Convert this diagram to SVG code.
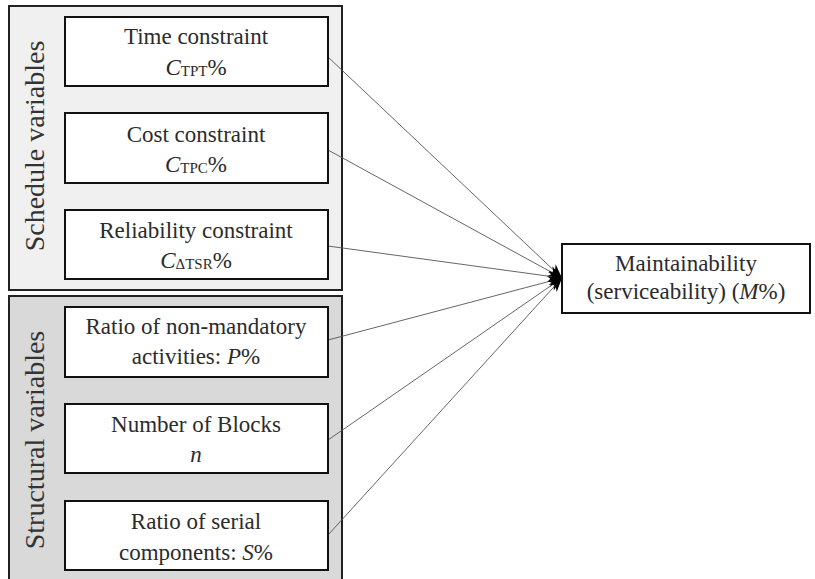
<svg xmlns="http://www.w3.org/2000/svg" width="815" height="579" viewBox="0 0 815 579">
  <defs>
    <marker id="arrow" viewBox="0 0 10 10" refX="10" refY="5" markerWidth="14" markerHeight="14" markerUnits="userSpaceOnUse" orient="auto">
      <path d="M0,1 L10,5 L0,9 L3,5 Z" fill="#000"/>
    </marker>
    <style>
      .group-sched { fill: #f0f0f0; stroke: #222; stroke-width: 2; }
      .group-struct { fill: #d9d9d9; stroke: #222; stroke-width: 2; }
      .box { fill: #fff; stroke: #111; stroke-width: 2; }
      text { font-family: "Liberation Serif", "Times New Roman", serif; }
      .txt { font-size: 23px; fill: #2b2b2b; text-anchor: middle; }
      .side { font-size: 28px; fill: #333; text-anchor: middle; }
      .it { font-style: italic; }
      .sub { font-size: 15px; }
      .link { stroke: #555; stroke-width: 0.9; fill: none; marker-end: url(#arrow); }
    </style>
  </defs>

  <rect width="815" height="579" fill="#fff"/>

  <!-- group panels -->
  <g id="schedule-variables">
    <rect class="group-sched" x="9" y="6" width="333" height="284"/>
    <text class="side" transform="translate(44,146) rotate(-90)">Schedule variables</text>
  </g>
  <g id="structural-variables">
    <rect class="group-struct" x="9" y="296" width="333" height="290"/>
    <text class="side" transform="translate(44,440) rotate(-90)">Structural variables</text>
  </g>

  <!-- connectors -->
  <g id="connectors">
    <line class="link" x1="328" y1="57" x2="562" y2="278"/>
    <line class="link" x1="328" y1="150" x2="562" y2="278"/>
    <line class="link" x1="328" y1="246" x2="562" y2="278"/>
    <line class="link" x1="328" y1="340" x2="562" y2="278"/>
    <line class="link" x1="328" y1="440" x2="562" y2="278"/>
    <line class="link" x1="328" y1="535" x2="562" y2="278"/>
  </g>

  <!-- input nodes -->
  <g id="time-constraint">
    <rect class="box" x="65" y="17" width="263" height="69"/>
    <text class="txt" x="196" y="44">Time constraint</text>
    <text class="txt" x="196" y="75"><tspan class="it">C</tspan><tspan class="sub" dy="1">TPT</tspan><tspan dy="-1">%</tspan></text>
  </g>
  <g id="cost-constraint">
    <rect class="box" x="65" y="113" width="263" height="70"/>
    <text class="txt" x="196" y="142">Cost constraint</text>
    <text class="txt" x="196" y="172"><tspan class="it">C</tspan><tspan class="sub" dy="1">TPC</tspan><tspan dy="-1">%</tspan></text>
  </g>
  <g id="reliability-constraint">
    <rect class="box" x="65" y="210" width="263" height="69"/>
    <text class="txt" x="196" y="238">Reliability constraint</text>
    <text class="txt" x="196" y="268"><tspan class="it">C</tspan><tspan class="sub" dy="1">ΔTSR</tspan><tspan dy="-1">%</tspan></text>
  </g>
  <g id="non-mandatory-ratio">
    <rect class="box" x="65" y="307" width="263" height="70"/>
    <text class="txt" x="196" y="334">Ratio of non-mandatory</text>
    <text class="txt" x="196" y="364">activities: <tspan class="it">P</tspan>%</text>
  </g>
  <g id="number-of-blocks">
    <rect class="box" x="65" y="404" width="263" height="69"/>
    <text class="txt" x="196" y="432">Number of Blocks</text>
    <text class="txt" x="196" y="462"><tspan class="it">n</tspan></text>
  </g>
  <g id="serial-ratio">
    <rect class="box" x="65" y="501" width="263" height="69"/>
    <text class="txt" x="196" y="529">Ratio of serial</text>
    <text class="txt" x="196" y="560">components: <tspan class="it">S</tspan>%</text>
  </g>

  <!-- output node -->
  <g id="maintainability">
    <rect class="box" x="562" y="244" width="248" height="69"/>
    <text class="txt" x="686" y="271">Maintainability</text>
    <text class="txt" x="686" y="299">(serviceability) (<tspan class="it">M</tspan>%)</text>
  </g>
</svg>
